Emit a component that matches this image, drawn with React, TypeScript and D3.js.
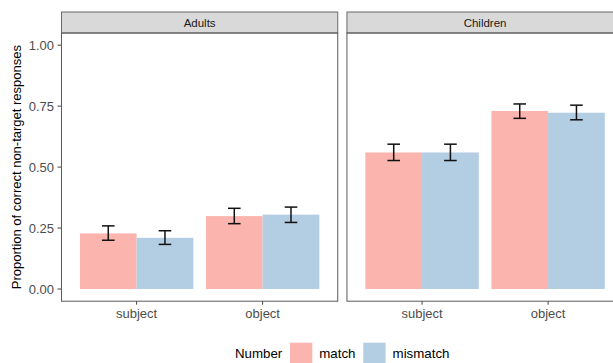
import React from 'react'
import { scaleLinear, scaleBand, scalePoint } from 'd3'

// facet groups, x categories and fill groups
const groups = ['Adults', 'Children']
const positions = ['subject', 'object']
const numbers = ['match', 'mismatch']
const colors = ['#FBB4AE', '#B3CDE3']
const yTicks = [0, 0.25, 0.5, 0.75, 1]

// means [group][position][number]
const adultsMean = [[0.228, 0.21], [0.299, 0.305]]
const adultsLow = [[0.2, 0.183], [0.268, 0.273]]
const adultsHigh = [[0.259, 0.239], [0.331, 0.336]]
const childMean = [[0.56, 0.56], [0.73, 0.723]]
const childLow = [[0.527, 0.527], [0.7, 0.694]]
const childHigh = [[0.594, 0.594], [0.759, 0.754]]

const means = [adultsMean, childMean]
const lows = [adultsLow, childLow]
const highs = [adultsHigh, childHigh]

const W = 613, H = 363
const font = 'Liberation Sans, Arial, Helvetica, sans-serif'

export default function App() {
  const stripTop = 12, panelTop = 33, panelBottom = 301.2

  const panels = scaleBand().domain(groups).range([61, 623.7]).paddingInner(0.0287)
  const pw = panels.bandwidth()

  const y = scaleLinear().domain([-0.05, 1.05]).range([panelBottom, panelTop])

  const x = scalePoint().domain(positions).range([0, pw]).padding(0.6)
  const step = x.step()
  const dodge = scaleBand().domain(numbers).range([-0.45 * step, 0.45 * step])
  const cap = 0.05 * step

  return (
    <svg width={W} height={H} style={{ position: 'absolute', left: 0, top: 0, display: 'block' }}
      fontFamily={font}>
      <rect width={W} height={H} fill="white" />
      {groups.map((g, gi) => {
        const px = panels(g)!
        return (
          <g key={g} transform={`translate(${px},0)`}>
            <rect x={0.5} y={stripTop} width={pw - 1} height={panelTop - stripTop}
              fill="#D9D9D9" stroke="#6a6a6a" strokeWidth={1} />
            <text x={pw / 2} y={(stripTop + panelTop) / 2} dy="0.36em" textAnchor="middle"
              fontSize={11.5} fill="#1A1A1A">{g}</text>
            {positions.map((p, pi) => numbers.map((n, ni) => {
              const cx = x(p)! + dodge(n)! + dodge.bandwidth() / 2
              return (
                <g key={p + n}>
                  <rect x={x(p)! + dodge(n)!} width={dodge.bandwidth()}
                    y={y(means[gi][pi][ni])} height={y(0) - y(means[gi][pi][ni])}
                    fill={colors[ni]} />
                  <g stroke="#111" strokeWidth={1.5}>
                    <line x1={cx} x2={cx} y1={y(lows[gi][pi][ni])} y2={y(highs[gi][pi][ni])} />
                    <line x1={cx - cap} x2={cx + cap} y1={y(lows[gi][pi][ni])} y2={y(lows[gi][pi][ni])} />
                    <line x1={cx - cap} x2={cx + cap} y1={y(highs[gi][pi][ni])} y2={y(highs[gi][pi][ni])} />
                  </g>
                </g>
              )
            }))}
            <rect x={0.5} y={panelTop} width={pw - 1} height={panelBottom - panelTop}
              fill="none" stroke="#5a5a5a" strokeWidth={1} />
            {positions.map(p => (
              <g key={p}>
                <line x1={x(p)} x2={x(p)} y1={panelBottom} y2={panelBottom + 3.5} stroke="#444" />
                <text x={x(p)} y={317.5} textAnchor="middle" fontSize={13} fill="#4D4D4D">{p}</text>
              </g>
            ))}
          </g>
        )
      })}
      {yTicks.map(t => (
        <g key={t}>
          <line x1={57.5} x2={61} y1={y(t)} y2={y(t)} stroke="#444" />
          <text x={54} y={y(t)} dy="0.36em" textAnchor="end" fontSize={13} fill="#4D4D4D">
            {t.toFixed(2)}
          </text>
        </g>
      ))}
      <text transform={`translate(21,${(panelTop + panelBottom) / 2}) rotate(-90)`} textAnchor="middle"
        fontSize={13} fill="#000">Proportion of correct non-target responses</text>
      <g>
        <text x={235} y={357.5} fontSize={13.3} fill="#000">Number</text>
        {numbers.map((n, i) => {
          const kx = [290, 363.3][i]
          return (
            <g key={n}>
              <rect x={kx} y={342.7} width={22.3} height={22.3} fill={colors[i]} />
              <text x={kx + 29.3} y={357.5} fontSize={13.3} fill="#000">{n}</text>
            </g>
          )
        })}
      </g>
    </svg>
  )
}
